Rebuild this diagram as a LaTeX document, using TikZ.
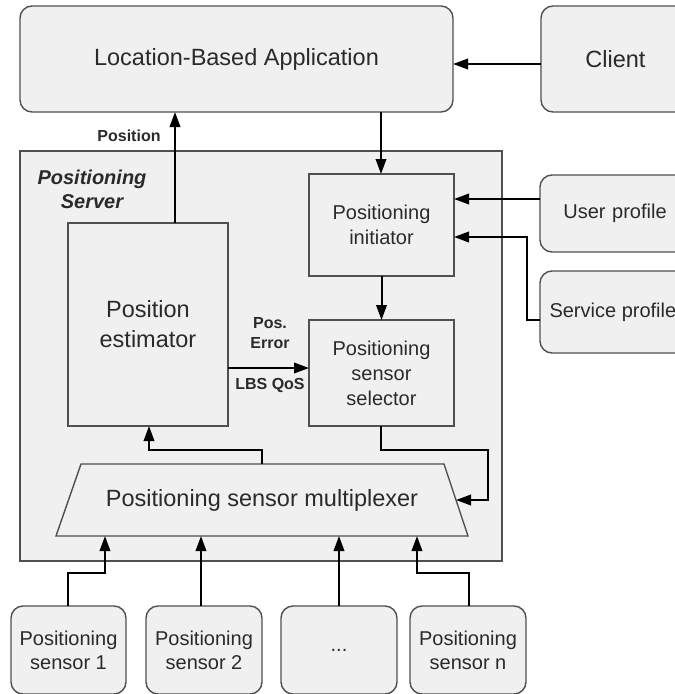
\documentclass[tikz,border=0pt]{standalone}
\usepackage{fontspec}
\setmainfont{Liberation Sans}
\usetikzlibrary{arrows.meta}
\definecolor{boxfill}{HTML}{F0F0F0}
\definecolor{boxline}{HTML}{505050}
\definecolor{txt}{HTML}{2A2A2A}
\begin{document}
\begin{tikzpicture}[x=1pt,y=-1pt,
 box/.style={draw=boxline, fill=boxfill, line width=1.4pt, inner sep=0pt, outer sep=0pt, align=center, text=txt},
 rbox/.style={box, rounded corners=12pt},
 arr/.style={line width=2pt, -{Triangle[length=15pt,width=10.5pt]}},
 lab/.style={font=\fontsize{16}{20}\selectfont\bfseries, text=txt, align=center},
 big/.style={font=\fontsize{23.5}{30}\selectfont},
 mid/.style={font=\fontsize{20}{25}\selectfont},
 sml/.style={font=\fontsize{20}{24}\selectfont}]
\clip (0,0) rectangle (675,694);
% top row
\node[rbox, big, minimum width=433pt, minimum height=106pt] (lba) at (236.5,59) {Location-Based Application};
\node[rbox, big, minimum width=149pt, minimum height=106pt] (client) at (615.5,59) {Client};
% server
\node[box, minimum width=482pt, minimum height=410pt] (server) at (261,356) {};
\node[font=\fontsize{20}{24}\selectfont\bfseries\itshape, text=txt, align=center] (srvlab) at (92,189) {Positioning\\Server};
\node[box, big, minimum width=160pt, minimum height=203pt] (est) at (148,324.5) {Position\\estimator};
\node[box, mid, minimum width=145pt, minimum height=102pt] (init) at (381.5,225) {Positioning\\initiator};
\node[box, mid, minimum width=145pt, minimum height=106pt] (sel) at (381.5,373) {Positioning\\sensor\\selector};
% profiles
\node[rbox, mid, minimum width=150pt, minimum height=77pt, text width=140pt] (user) at (615,213.5) {User profile};
\node[rbox, mid, minimum width=150pt, minimum height=82pt] (service) at (615,312) {};
\node[mid, text=txt, anchor=west] (servtxt) at (546,312) {Service profile};
% multiplexer
\draw[box] (81,464) -- (444,464) -- (468,536) -- (56,536) -- cycle;
\node[big, text=txt] (mux) at (262,500) {Positioning sensor multiplexer};
% sensors
\node[rbox, sml, minimum width=115pt, minimum height=88pt] (s1) at (68.5,650) {Positioning\\sensor 1};
\node[rbox, sml, minimum width=116pt, minimum height=88pt] (s2) at (204,650) {Positioning\\sensor 2};
\node[rbox, sml, minimum width=116pt, minimum height=88pt] (s3) at (339,650) {...};
\node[rbox, sml, minimum width=116pt, minimum height=88pt] (sn) at (468,650) {Positioning\\sensor n};
% coordinates
\coordinate (cl) at (541,64);  \coordinate (lr) at (453,64);
\coordinate (p1) at (175,223); \coordinate (p2) at (175,112);
\coordinate (d1) at (381,112); \coordinate (d2) at (381,174);
\coordinate (u1) at (540,199); \coordinate (u2) at (454,199);
\coordinate (v1) at (540,320); \coordinate (v2) at (527,320); \coordinate (v3) at (527,237); \coordinate (v4) at (454,237);
\coordinate (e1) at (228,368); \coordinate (e2) at (309,368);
\coordinate (m1) at (262,464); \coordinate (m2) at (262,450); \coordinate (m3) at (149,450); \coordinate (m4) at (149,426);
\coordinate (q1) at (381,426); \coordinate (q2) at (381,450); \coordinate (q3) at (488,450); \coordinate (q4) at (488,500); \coordinate (q5) at (456,500);
\coordinate (a1) at (68,606); \coordinate (a2) at (68,573); \coordinate (a3) at (105,573); \coordinate (a4) at (105,536);
\coordinate (b1) at (201,606); \coordinate (b2) at (201,536);
\coordinate (c1) at (339,606); \coordinate (c2) at (339,536);
\coordinate (n1) at (469,606); \coordinate (n2) at (469,573); \coordinate (n3) at (417,573); \coordinate (n4) at (417,536);
% connectors
\draw[arr] (cl) -- (lr);
\draw[arr] (p1) -- (p2);
\draw[arr] (d1) -- (d2);
\draw[arr] (init) -- (sel);
\draw[arr] (u1) -- (u2);
\draw[arr] (v1) -- (v2) -- (v3) -- (v4);
\draw[arr] (e1) -- (e2);
\draw[arr] (m1) -- (m2) -- (m3) -- (m4);
\draw[arr] (q1) -- (q2) -- (q3) -- (q4) -- (q5);
\draw[arr] (a1) -- (a2) -- (a3) -- (a4);
\draw[arr] (b1) -- (b2);
\draw[arr] (c1) -- (c2);
\draw[arr] (n1) -- (n2) -- (n3) -- (n4);
% labels
\node[lab] (lpos) at (129,136) {Position};
\node[lab] (lerr) at (270,333) {Pos.\\Error};
\node[lab] (lqos) at (270,385) {LBS QoS};
\end{tikzpicture}
\end{document}
